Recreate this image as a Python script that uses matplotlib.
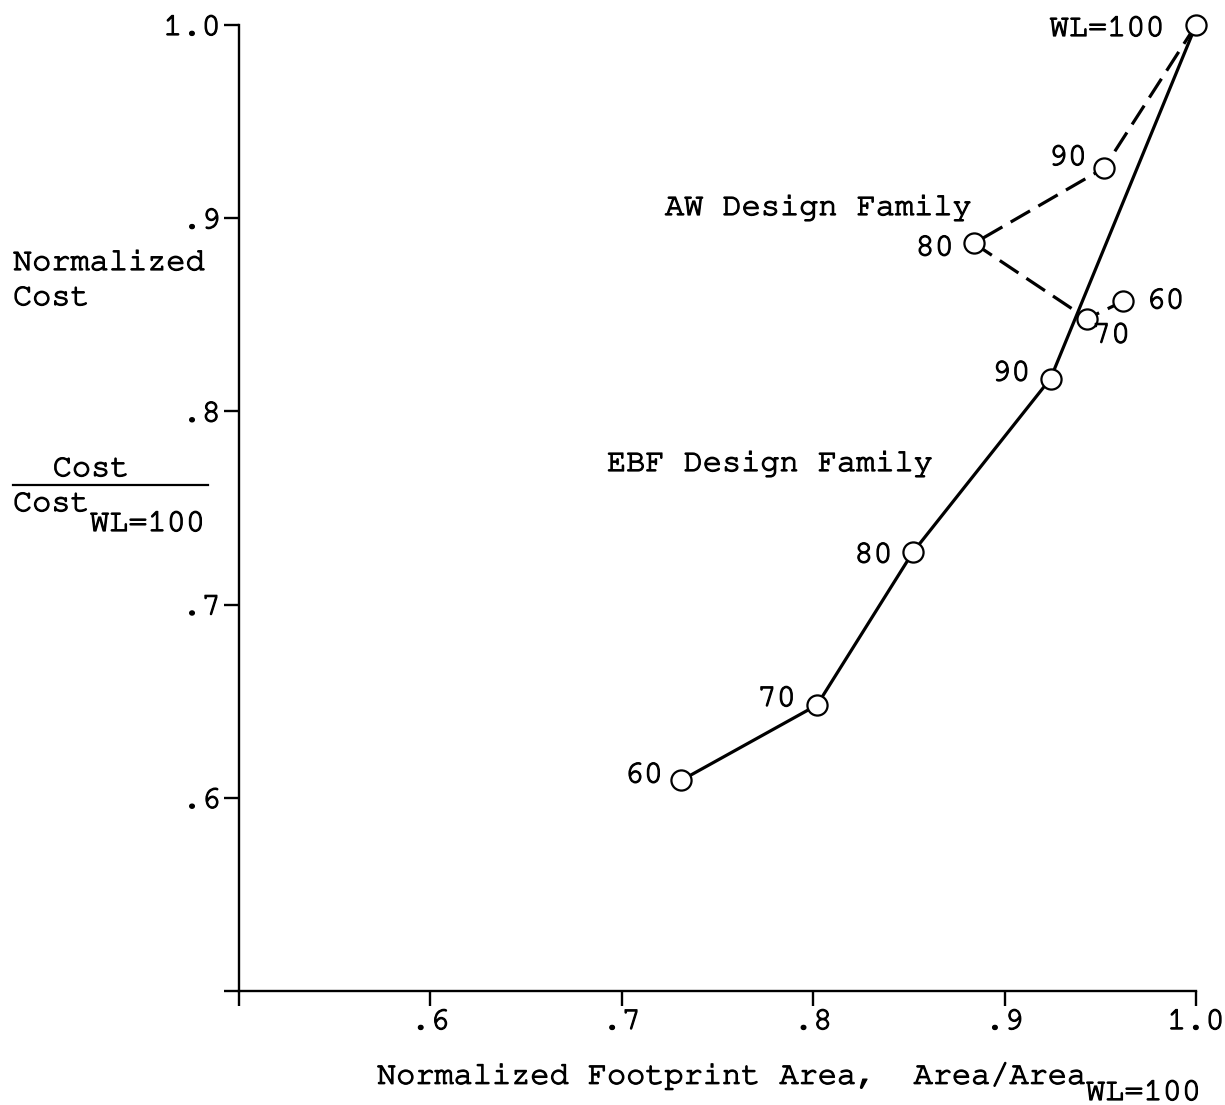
import matplotlib
matplotlib.use("Agg")
import logging
logging.getLogger("matplotlib.font_manager").setLevel(logging.ERROR)
import matplotlib.pyplot as plt
import matplotlib.patheffects as pe

# ---- data ----
ebf_labels = ["60", "70", "80", "90", "WL=100"]
ebf_area = [0.731, 0.802, 0.852, 0.924, 1.0]
ebf_cost = [0.609, 0.648, 0.727, 0.817, 1.0]

aw_labels = ["WL=100", "90", "80", "70", "60"]
aw_area = [1.0, 0.952, 0.884, 0.943, 0.962]
aw_cost = [1.0, 0.926, 0.887, 0.848, 0.857]

xticks = [0.5, 0.6, 0.7, 0.8, 0.9, 1.0]
xticklabels = ["", ".6", ".7", ".8", ".9", "1.0"]
yticks = [0.5, 0.6, 0.7, 0.8, 0.9, 1.0]
yticklabels = ["", ".6", ".7", ".8", ".9", "1.0"]

FS = 23
plt.rcParams["font.family"] = ["Nimbus Mono PS", "FreeMono", "Courier New",
                               "Courier", "Liberation Mono", "DejaVu Sans Mono"]
THICK = [pe.withStroke(linewidth=0.9, foreground="black")]

W, H = 1225, 1105
fig = plt.figure(figsize=(W / 100, H / 100), dpi=100)
ax = fig.add_axes([239 / W, 1 - 991 / H, (1196 - 239) / W, (991 - 25) / H])
ax.set_xlim(0.5, 1.0)
ax.set_ylim(0.5, 1.0)
for s in ["top", "right"]:
    ax.spines[s].set_visible(False)
for s in ["left", "bottom"]:
    ax.spines[s].set_linewidth(1.7)
ax.set_xticks(xticks)
ax.set_xticklabels(xticklabels)
ax.set_yticks(yticks)
ax.set_yticklabels(yticklabels)
ax.tick_params(direction="out", length=11, width=1.7, labelsize=FS, pad=2)
for t in ax.get_xticklabels() + ax.get_yticklabels():
    t.set_path_effects(THICK)

lw = 2.3
ax.plot(ebf_area, ebf_cost, color="black", lw=lw, zorder=2, clip_on=False,
        solid_capstyle="round")
ax.plot(aw_area, aw_cost, color="black", lw=lw, zorder=2, clip_on=False,
        dashes=(7, 3))
ax.plot(ebf_area, ebf_cost, ls="none", marker="o", ms=14.5, mfc="white",
        mec="black", mew=1.6, zorder=3, clip_on=False)
ax.plot(aw_area[1:], aw_cost[1:], ls="none", marker="o", ms=14.5, mfc="white",
        mec="black", mew=1.6, zorder=3, clip_on=False)

# point labels: (dx, dy) offsets in pixels, ha
ebf_off = [(-18, 5, "right"), (-21, 6, "right"), (-20, -3, "right"),
           (-20, 5, "right"), (-31, -4, "right")]
aw_off = [None, (-17, 10, "right"), (-20, -5, "right"),
          (5, -17, "left"), (23, 0, "left")]
for lab, x, y, o in zip(ebf_labels, ebf_area, ebf_cost, ebf_off):
    ax.annotate(lab, (x, y), xytext=(o[0], o[1]), textcoords="offset pixels",
                ha=o[2], va="center", fontsize=FS, annotation_clip=False,
                path_effects=THICK)
for lab, x, y, o in zip(aw_labels, aw_area, aw_cost, aw_off):
    if o is None:
        continue
    ax.annotate(lab, (x, y), xytext=(o[0], o[1]), textcoords="offset pixels",
                ha=o[2], va="center", fontsize=FS, annotation_clip=False,
                path_effects=THICK)


def ftext(px, py, s, ha="left", **kw):
    fig.text(px / W, 1 - py / H, s, ha=ha, va="center", fontsize=FS,
             path_effects=THICK, **kw)


ftext(665, 208, "AW Design Family")
ftext(607, 464, "EBF Design Family")

# y label
ftext(13, 263, "Normalized")
ftext(13, 298, "Cost")
ftext(91, 469, "Cost", ha="center")
fig.add_artist(plt.Line2D([13 / W, 208 / W], [1 - 485 / H, 1 - 485 / H],
                          color="black", lw=1.6))
ftext(13, 504, "Cost")
ftext(90, 524, "WL=100")

# x label
ftext(377, 1076, "Normalized Footprint Area,  Area/Area")
ftext(1086, 1093, "WL=100")

fig.savefig("out.png", dpi=100, facecolor="white")
